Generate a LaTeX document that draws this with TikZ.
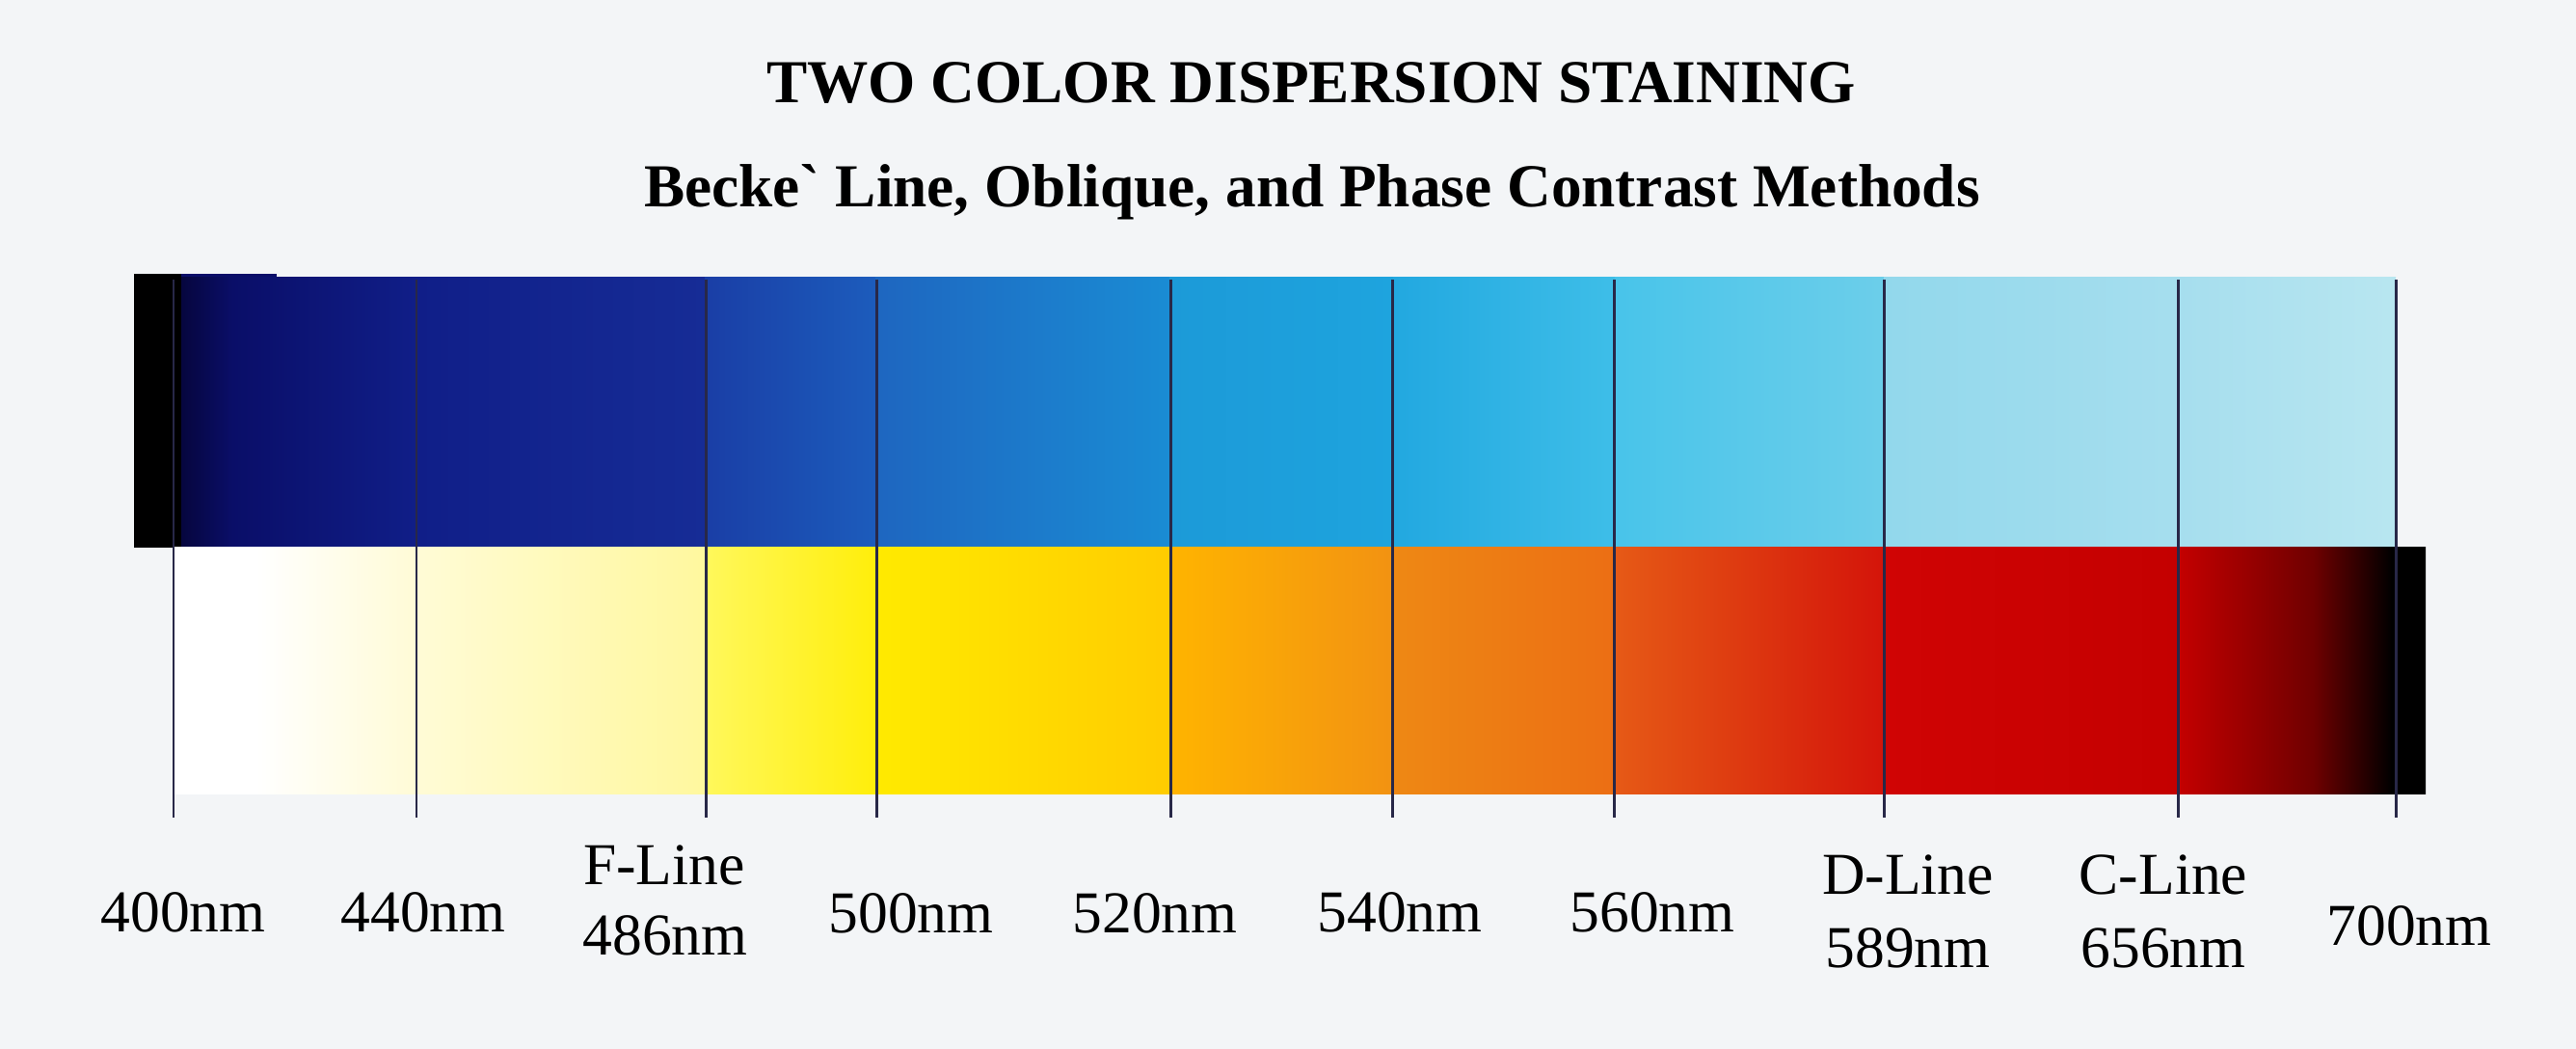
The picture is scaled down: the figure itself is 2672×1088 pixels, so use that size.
\documentclass[tikz,border=0pt]{standalone}
\usepackage{fontspec}
\setmainfont{Liberation Serif}
\usepackage{xcolor}
\usepackage{tikz}
\usetikzlibrary{positioning}
\definecolor{bgpaper}{RGB}{243,245,247}
\definecolor{tickc}{RGB}{40,40,72}
% blue band
\definecolor{bnz}{RGB}{6,6,62}
\definecolor{bna}{RGB}{10,14,104}
\definecolor{bnb}{RGB}{16,30,136}
\definecolor{bnc}{RGB}{22,44,150}
\definecolor{bnd}{RGB}{26,62,166}
\definecolor{bne}{RGB}{28,92,188}
\definecolor{bnf}{RGB}{30,102,192}
\definecolor{bng}{RGB}{26,140,212}
\definecolor{bnh}{RGB}{28,154,216}
\definecolor{bni}{RGB}{30,164,222}
\definecolor{bnj}{RGB}{34,168,224}
\definecolor{bnk}{RGB}{62,190,232}
\definecolor{bnl}{RGB}{72,196,234}
\definecolor{bnm}{RGB}{108,206,234}
\definecolor{bnn}{RGB}{146,216,236}
\definecolor{bno}{RGB}{166,222,238}
\definecolor{bnp}{RGB}{184,230,240}
% yellow-red band
\definecolor{yra}{RGB}{255,251,214}
\definecolor{yrb}{RGB}{255,248,158}
\definecolor{yrc}{RGB}{255,248,92}
\definecolor{yrd}{RGB}{255,238,10}
\definecolor{yre}{RGB}{255,234,0}
\definecolor{yrf}{RGB}{255,204,0}
\definecolor{yrg}{RGB}{255,180,0}
\definecolor{yrh}{RGB}{242,146,18}
\definecolor{yri}{RGB}{238,136,20}
\definecolor{yrj}{RGB}{236,110,20}
\definecolor{yrk}{RGB}{230,90,22}
\definecolor{yrl}{RGB}{212,20,10}
\definecolor{yrm}{RGB}{208,4,4}
\definecolor{yrn}{RGB}{196,0,0}
\definecolor{yro}{RGB}{110,0,0}

\begin{document}
\begin{tikzpicture}[
      x=0.01cm, y=-0.01cm,
      every node/.style={font=\fontsize{17.5}{21}\selectfont, inner sep=0pt},
      ttl/.style={font=\fontsize{18}{22}\selectfont\bfseries, anchor=base},
      wl/.style={anchor=base},
      tick/.style={draw=tickc, line width=0.85pt},
  ]
    \useasboundingbox (0,0) rectangle (2672,1088);
    \fill[bgpaper] (0,0) rectangle (2672,1088);

    \node[ttl] (title) at (1360,107) {TWO COLOR DISPERSION STAINING};
    \node[ttl] (subtitle) at (1361,215) {Becke\textasciigrave{} Line, Oblique, and Phase Contrast Methods};

    % blue band
    \fill[bna] (188,284) rectangle (287,292);
    \foreach \xa/\xb/\ca/\cb in {139/188/black/black, 188/240/bnz/bna, 240/432/bna/bnb,
        432/731/bnb/bnc, 731/908/bnd/bne, 908/1213/bnf/bng, 1213/1445/bnh/bni,
        1445/1675/bnj/bnk, 1675/1954/bnl/bnm, 1954/2259/bnn/bno, 2259/2484/bno/bnp}
      \shade[left color=\ca, right color=\cb] (\xa,288) rectangle (\xb+1,567);
    \fill[black] (139,284) rectangle (188,290);

    % yellow-red band
    \foreach \xa/\xb/\ca/\cb in {180/265/white/white, 265/432/white/yra, 432/731/yra/yrb,
        731/908/yrc/yrd, 908/1213/yre/yrf, 1213/1445/yrg/yrh, 1445/1675/yri/yrj,
        1675/1954/yrk/yrl, 1954/2259/yrm/yrn, 2259/2400/yrn/yro, 2400/2480/yro/black,
        2480/2515/black/black}
      \shade[left color=\ca, right color=\cb] (\xa,567) rectangle (\xb+1,823);

    % wavelength ticks
    \foreach \x [count=\i] in {180,432,732,909,1214,1444,1674,1954,2259,2485} {
      \coordinate (top\i) at (\x,290);
      \coordinate (bot\i) at (\x,848);
      \draw[tick] (top\i) -- (bot\i);
    }

    \node[wl] (n400) at (190,966) {400nm};
    \node[wl] (n440) at (439,966) {440nm};
    \node[wl] (fline) at (689,917) {F-Line};
    \node[wl] (n486) at (690,990) {486nm};
    \node[wl] (n500) at (945,967) {500nm};
    \node[wl] (n520) at (1198,967) {520nm};
    \node[wl] (n540) at (1452,966) {540nm};
    \node[wl] (n560) at (1714,966) {560nm};
    \node[wl] (dline) at (1979,927) {D-Line};
    \node[wl] (n589) at (1979,1003) {589nm};
    \node[wl] (cline) at (2244,927) {C-Line};
    \node[wl] (n656) at (2244,1003) {656nm};
    \node[wl] (n700) at (2499,980) {700nm};
  \end{tikzpicture}
\end{document}
